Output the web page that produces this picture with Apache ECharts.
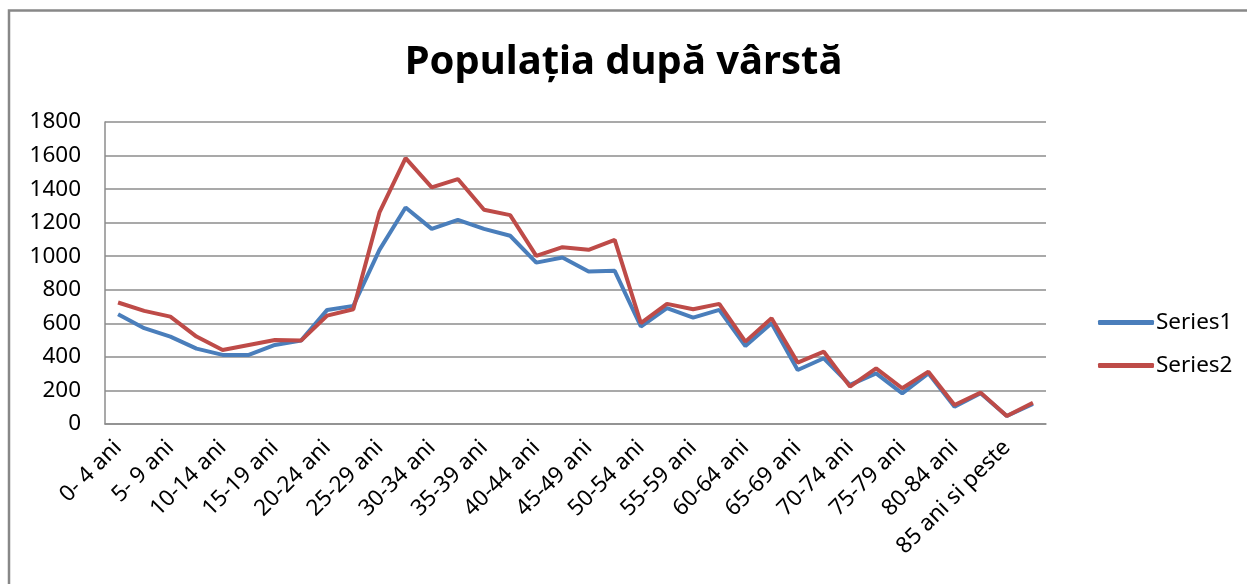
<!DOCTYPE html>
<html>
<head>
    <meta charset="utf-8">
    <script src="https://cdn.jsdelivr.net/npm/echarts@6/dist/echarts.min.js"></script>
    <style>
        html, body { margin: 0; padding: 0; background: #fff; }
    </style>
</head>
<body>
<div id="myChart" style="width: 1247px; height: 584px;"></div>

<script type="text/javascript">
    var chart = echarts.init(document.getElementById('myChart'));

    // 36 rânduri, Excel afișează doar fiecare a doua etichetă
    var ages = [
        '0- 4 ani', '', '5- 9 ani', '', '10-14 ani', '', '15-19 ani', '',
        '20-24 ani', '', '25-29 ani', '', '30-34 ani', '', '35-39 ani', '',
        '40-44 ani', '', '45-49 ani', '', '50-54 ani', '', '55-59 ani', '',
        '60-64 ani', '', '65-69 ani', '', '70-74 ani', '', '75-79 ani', '',
        '80-84 ani', '', '85 ani si peste', ''
    ];

    var series1 = [
        654, 571, 521, 449, 412, 412, 471, 497, 680, 704, 1038, 1290,
        1163, 1217, 1163, 1122, 962, 992, 909, 913, 581, 690, 634, 680,
        465, 601, 322, 392, 233, 302, 183, 302, 103, 183, 48, 119
    ];

    var series2 = [
        724, 674, 640, 521, 441, 471, 501, 497, 646, 684, 1261, 1585,
        1410, 1460, 1277, 1245, 1002, 1054, 1038, 1098, 601, 716, 684, 716,
        491, 630, 366, 431, 223, 332, 213, 312, 113, 187, 48, 127
    ];

    var yTicks = [0, 1800, 200];  // min, max, pas

    var font = 'Noto Sans';

    var option = {
        animation: false,
        backgroundColor: '#fff',
        title: {
            text: 'Populația după vârstă',
            left: 'center',
            top: 38,
            textStyle: {
                fontFamily: font,
                fontSize: 40,
                fontWeight: 'bold',
                color: '#000',
            },
        },
        legend: {
            orient: 'vertical',
            left: 1093,
            top: 306,
            itemWidth: 56,
            itemHeight: 5,
            itemGap: 20,
            icon: 'roundRect',
            textStyle: {
                fontFamily: font,
                fontSize: 22.5,
                color: '#000',
                padding: [0, 0, 0, -3],
            },
            data: ['Series1', 'Series2'],
        },
        grid: {
            left: 105,
            top: 122,
            width: 941,
            height: 302,
            containLabel: false,
        },
        xAxis: {
            type: 'category',
            boundaryGap: true,
            data: ages,
            axisLine: {
                lineStyle: { color: '#8c8c8c', width: 1.5 },
            },
            axisTick: { show: false },
            axisLabel: {
                interval: 1,
                rotate: 45,
                margin: 20,
                fontFamily: font,
                fontSize: 22.5,
                color: '#000',
            },
        },
        yAxis: {
            type: 'value',
            min: yTicks[0],
            max: yTicks[1],
            interval: yTicks[2],
            axisLine: {
                show: true,
                lineStyle: { color: '#8c8c8c', width: 1.5 },
            },
            axisTick: { show: false },
            splitLine: {
                lineStyle: { color: '#8c8c8c', width: 1.5 },
            },
            axisLabel: {
                margin: 24,
                fontFamily: font,
                fontSize: 22.5,
                color: '#000',
                formatter: function (v) { return String(v); },
            },
        },
        series: [{
            name: 'Series1',
            type: 'line',
            data: series1,
            symbol: 'none',
            color: '#4a7ebb',
            lineStyle: { width: 4, color: '#4a7ebb' },
        }, {
            name: 'Series2',
            type: 'line',
            data: series2,
            symbol: 'none',
            color: '#be4b48',
            lineStyle: { width: 4, color: '#be4b48' },
        }],
        graphic: [{
            type: 'rect',
            shape: { x: 9, y: 10.5, width: 1400, height: 800 },
            style: { fill: 'none', stroke: '#888', lineWidth: 2.5 },
            silent: true,
        }],
    };

    chart.setOption(option, true);
</script>
</body>
</html>
